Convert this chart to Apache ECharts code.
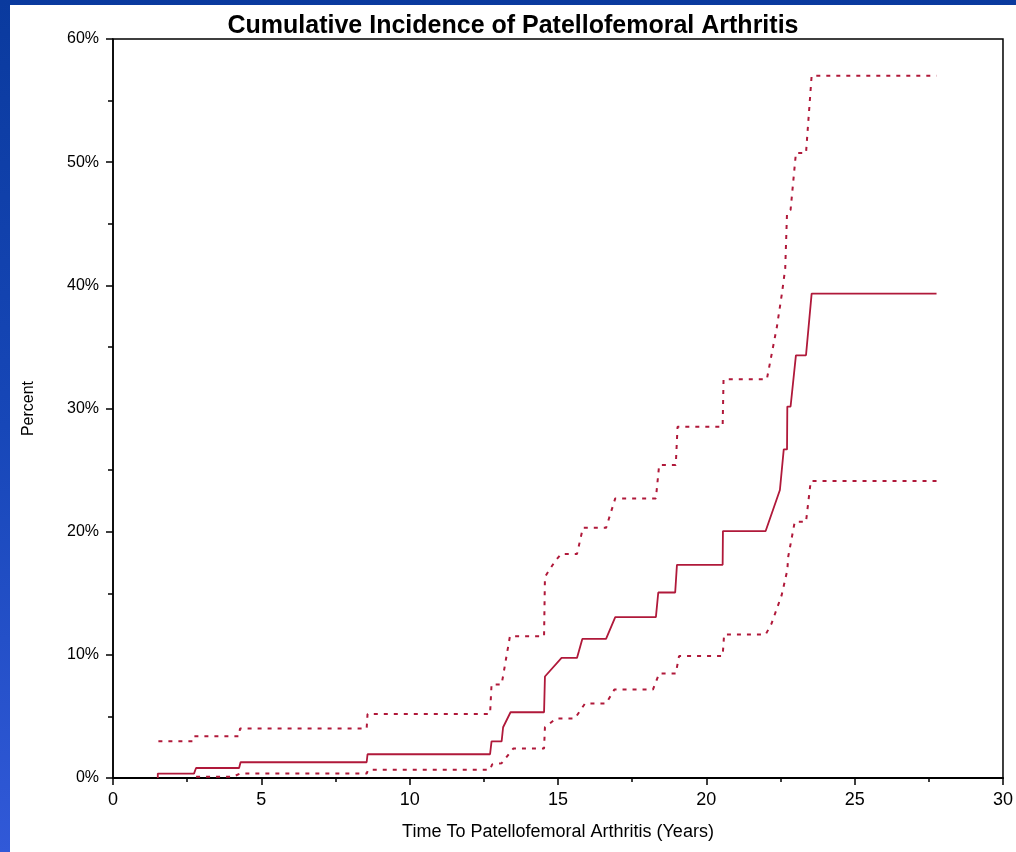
<!DOCTYPE html>
<html>
<head>
<meta charset="utf-8">
<script src="https://cdn.jsdelivr.net/npm/echarts@6/dist/echarts.min.js"></script>
<style>
  html, body { margin: 0; padding: 0; width: 1016px; height: 852px; overflow: hidden; }
  body { background: linear-gradient(180deg, #0a3a9e 0%, #1747b8 50%, #3159d8 100%); position: relative; }
  #paper { position: absolute; left: 10px; top: 5px; right: 0; bottom: 0; background: #ffffff; }
  #chart { position: absolute; left: 0; top: 0; width: 1016px; height: 852px; }
</style>
</head>
<body>
<div id="paper"></div>
<div id="chart"></div>
<script>
// Data: [years, percent]
const titleText = 'Cumulative Incidence of Patellofemoral Arthritis';
const xAxisName = 'Time To Patellofemoral Arthritis (Years)';
const yAxisName = 'Percent';
const xTicks = [0, 5, 10, 15, 20, 25, 30];
const yTicks = [0, 10, 20, 30, 40, 50, 60];

const estimate = [
  [1.51, 0], [1.51, 0.36], [2.73, 0.36], [2.80, 0.81], [4.25, 0.81], [4.30, 1.28],
  [8.55, 1.28], [8.58, 1.93], [12.71, 1.93], [12.76, 2.98], [13.10, 2.98], [13.15, 4.12],
  [13.19, 4.2], [13.40, 5.34], [14.53, 5.34], [14.56, 8.24], [15.12, 9.75], [15.64, 9.75],
  [15.82, 11.29], [16.62, 11.29], [16.93, 13.06], [18.30, 13.06], [18.38, 15.06],
  [18.95, 15.06], [19.01, 17.31], [20.55, 17.31], [20.56, 20.05], [22.0, 20.05],
  [22.48, 23.38], [22.61, 26.68], [22.72, 26.68], [22.73, 30.16], [22.84, 30.16],
  [23.02, 34.32], [23.36, 34.32], [23.55, 39.33], [27.76, 39.33]
];

const upperCI = [
  [1.53, 2.98], [2.68, 2.98], [2.72, 3.39], [4.25, 3.39], [4.28, 4.01], [8.55, 4.01],
  [8.58, 5.2], [12.71, 5.2], [12.76, 7.6], [13.1, 7.6], [13.38, 11.51], [14.53, 11.51],
  [14.56, 16.33], [14.9, 17.6], [15.1, 18.18], [15.64, 18.18], [15.84, 20.31],
  [16.62, 20.31], [16.93, 22.7], [18.30, 22.7], [18.41, 25.41], [18.97, 25.41],
  [19.03, 28.52], [20.55, 28.52], [20.58, 32.37], [22.04, 32.37], [22.38, 36.65],
  [22.55, 39.36], [22.66, 41.39], [22.72, 45.86], [22.84, 46.13], [23.02, 50.74],
  [23.36, 50.74], [23.55, 57.02], [27.76, 57.02]
];

const lowerCI = [
  [2.8, 0.1], [4.05, 0.1], [4.28, 0.36], [8.55, 0.36], [8.6, 0.67], [12.71, 0.67],
  [12.78, 1.1], [13.1, 1.2], [13.49, 2.39], [14.53, 2.39], [14.56, 4.12], [14.93, 4.83],
  [15.57, 4.83], [15.91, 6.05], [16.62, 6.05], [16.9, 7.18], [18.2, 7.18], [18.41, 8.48],
  [18.97, 8.48], [19.08, 9.9], [20.55, 9.9], [20.6, 11.65], [22.0, 11.65], [22.2, 12.55],
  [22.54, 14.85], [22.73, 16.88], [22.76, 17.96], [22.98, 20.8], [23.36, 20.8],
  [23.52, 24.11], [27.76, 24.11]
];

const lineColor = '#b0193a';
const font = '"Liberation Sans", Arial, sans-serif';

const chart = echarts.init(document.getElementById('chart'));
chart.setOption({
  animation: false,
  backgroundColor: 'transparent',
  title: {
    text: titleText,
    left: 508, top: 9, textAlign: 'center',
    textStyle: { fontFamily: font, fontSize: 25, fontWeight: 'bold', color: '#000' }
  },
  grid: {
    left: 113, right: 13, top: 39, bottom: 74,
    show: true, borderColor: '#000', borderWidth: 1.5, backgroundColor: 'transparent'
  },
  xAxis: {
    type: 'value', min: xTicks[0], max: xTicks[xTicks.length - 1], interval: 5,
    name: xAxisName, nameLocation: 'middle', nameGap: 45,
    nameTextStyle: { fontFamily: font, fontSize: 18, color: '#000' },
    axisLine: { show: true, lineStyle: { color: '#000', width: 2 } },
    axisTick: { show: true, length: 7, lineStyle: { color: '#000', width: 1.5 } },
    minorTick: { show: true, splitNumber: 2, length: 4, lineStyle: { color: '#000', width: 1.5 } },
    axisLabel: { fontFamily: font, fontSize: 18, color: '#000', margin: 13 },
    splitLine: { show: false }
  },
  yAxis: {
    type: 'value', min: yTicks[0], max: yTicks[yTicks.length - 1], interval: 10,
    name: yAxisName, nameLocation: 'middle', nameGap: 76,
    nameTextStyle: { fontFamily: font, fontSize: 16, color: '#000' },
    axisLine: { show: true, lineStyle: { color: '#000', width: 1.5 } },
    axisTick: { show: true, length: 7, lineStyle: { color: '#000', width: 1.5 } },
    minorTick: { show: true, splitNumber: 2, length: 5, lineStyle: { color: '#000', width: 1.5 } },
    axisLabel: { fontFamily: font, fontSize: 16, color: '#000', margin: 14, formatter: '{value}%' },
    splitLine: { show: false }
  },
  series: [
    { type: 'line', data: upperCI, symbol: 'none', lineStyle: { color: lineColor, width: 2, type: [4, 6] } },
    { type: 'line', data: lowerCI, symbol: 'none', lineStyle: { color: lineColor, width: 2, type: [4, 6] } },
    { type: 'line', data: estimate, symbol: 'none', lineStyle: { color: lineColor, width: 1.8 } }
  ]
});
</script>
</body>
</html>
